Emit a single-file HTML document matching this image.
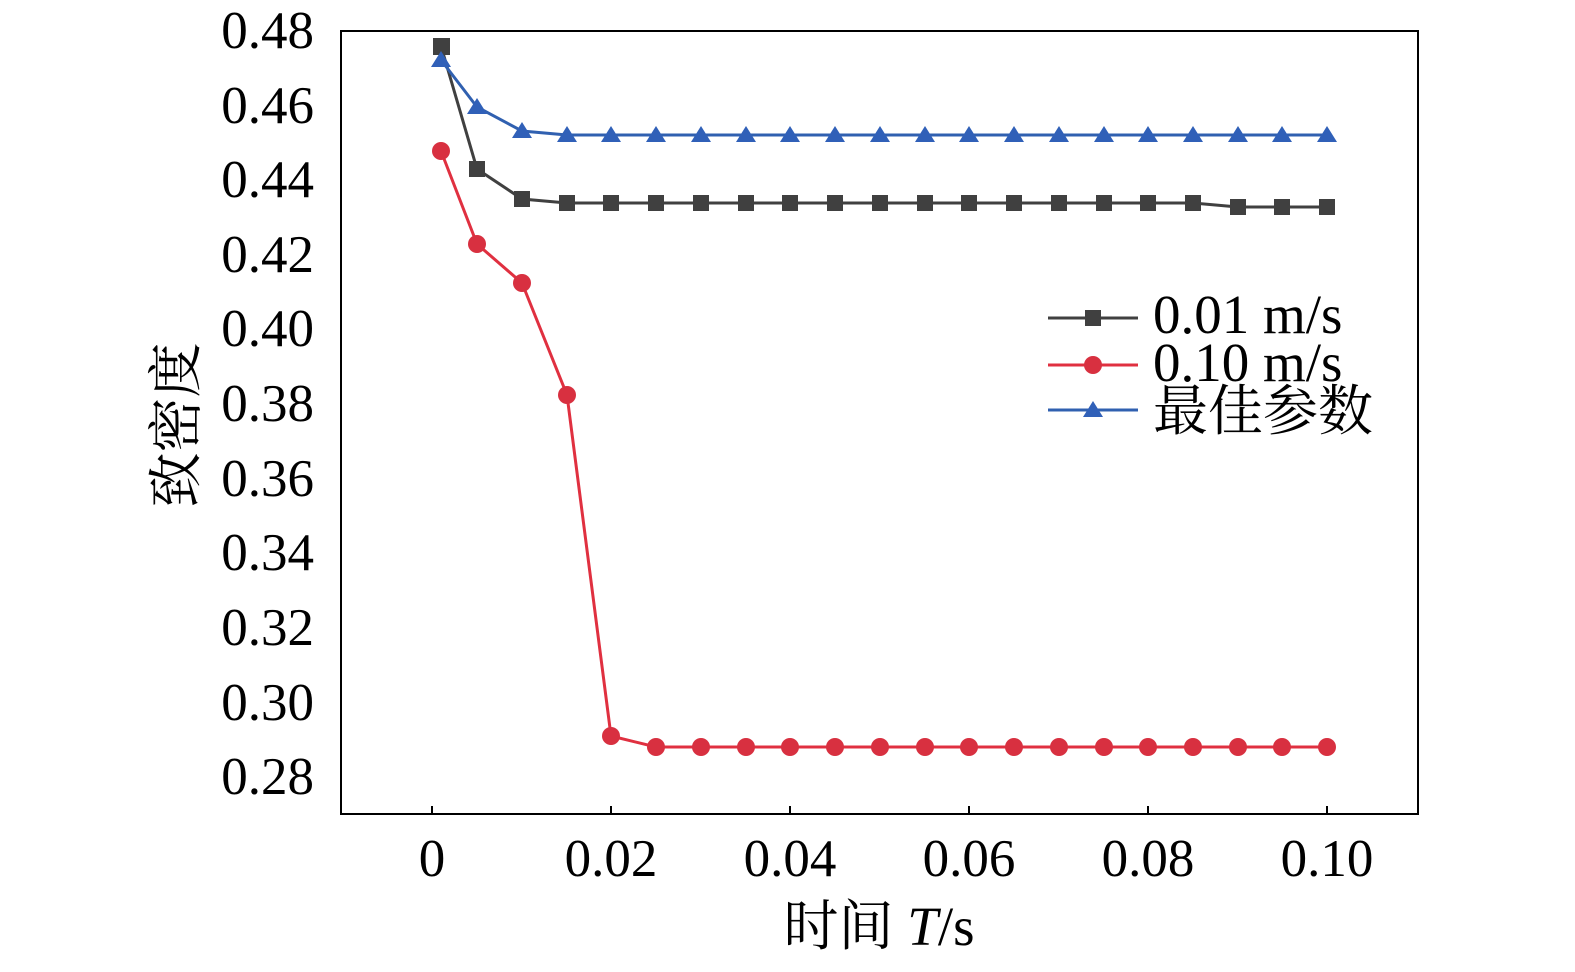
<!DOCTYPE html>
<html><head><meta charset="utf-8"><style>
html,body{margin:0;padding:0;background:#fff;}
</style></head><body>
<svg width="1575" height="967" xmlns="http://www.w3.org/2000/svg" font-family="'Liberation Serif','Noto Serif CJK SC',serif">
<rect x="341" y="31" width="1077" height="783" fill="none" stroke="#000" stroke-width="2"/>
<g font-size="53" text-anchor="end" fill="#000">
<text x="314" y="48">0.48</text><text x="314" y="123">0.46</text><text x="314" y="197">0.44</text>
<text x="314" y="272">0.42</text><text x="314" y="346">0.40</text><text x="314" y="421">0.38</text>
<text x="314" y="496">0.36</text><text x="314" y="570">0.34</text><text x="314" y="645">0.32</text>
<text x="314" y="720">0.30</text><text x="314" y="794">0.28</text>
</g>
<g stroke="#000" stroke-width="2">
<line x1="432" y1="814" x2="432" y2="806"/><line x1="611" y1="814" x2="611" y2="806"/>
<line x1="790" y1="814" x2="790" y2="806"/><line x1="969" y1="814" x2="969" y2="806"/>
<line x1="1148" y1="814" x2="1148" y2="806"/><line x1="1327" y1="814" x2="1327" y2="806"/>
</g>
<g font-size="53" text-anchor="middle">
<text x="432" y="876">0</text><text x="611" y="876">0.02</text><text x="790" y="876">0.04</text>
<text x="969" y="876">0.06</text><text x="1148" y="876">0.08</text><text x="1327" y="876">0.10</text>
</g>
<text x="879" y="945" font-size="55" text-anchor="middle">时间 <tspan font-style="italic">T</tspan>/s</text>
<text transform="translate(195,425) rotate(-90)" font-size="55" text-anchor="middle">致密度</text>
<polyline fill="none" stroke="#404040" stroke-width="3" points="441,46 477,169 522,199 567,203 611,203 656,203 701,203 746,203 790,203 835,203 880,203 925,203 969,203 1014,203 1059,203 1104,203 1148,203 1193,203 1238,207 1282,207 1327,207"/>
<g fill="#404040">
<rect x="433" y="38" width="17" height="17"/><rect x="469" y="161" width="16" height="16"/><rect x="514" y="191" width="16" height="16"/>
<rect x="559" y="195" width="16" height="16"/><rect x="603" y="195" width="16" height="16"/><rect x="648" y="195" width="16" height="16"/>
<rect x="693" y="195" width="16" height="16"/><rect x="738" y="195" width="16" height="16"/><rect x="782" y="195" width="16" height="16"/>
<rect x="827" y="195" width="16" height="16"/><rect x="872" y="195" width="16" height="16"/><rect x="917" y="195" width="16" height="16"/>
<rect x="961" y="195" width="16" height="16"/><rect x="1006" y="195" width="16" height="16"/><rect x="1051" y="195" width="16" height="16"/>
<rect x="1096" y="195" width="16" height="16"/><rect x="1140" y="195" width="16" height="16"/><rect x="1185" y="195" width="16" height="16"/>
<rect x="1230" y="199" width="16" height="16"/><rect x="1274" y="199" width="16" height="16"/><rect x="1319" y="199" width="16" height="16"/>
</g>
<polyline fill="none" stroke="#e03040" stroke-width="3" points="441,151 477,244 522,283 567,395 611,736 656,747 701,747 746,747 790,747 835,747 880,747 925,747 969,747 1014,747 1059,747 1104,747 1148,747 1193,747 1238,747 1282,747 1327,747"/>
<g fill="#d83040">
<circle cx="441" cy="151" r="9"/><circle cx="477" cy="244" r="9"/><circle cx="522" cy="283" r="9"/><circle cx="567" cy="395" r="9"/>
<circle cx="611" cy="736" r="9"/><circle cx="656" cy="747" r="9"/><circle cx="701" cy="747" r="9"/><circle cx="746" cy="747" r="9"/>
<circle cx="790" cy="747" r="9"/><circle cx="835" cy="747" r="9"/><circle cx="880" cy="747" r="9"/><circle cx="925" cy="747" r="9"/>
<circle cx="969" cy="747" r="9"/><circle cx="1014" cy="747" r="9"/><circle cx="1059" cy="747" r="9"/><circle cx="1104" cy="747" r="9"/>
<circle cx="1148" cy="747" r="9"/><circle cx="1193" cy="747" r="9"/><circle cx="1238" cy="747" r="9"/><circle cx="1282" cy="747" r="9"/><circle cx="1327" cy="747" r="9"/>
</g>
<polyline fill="none" stroke="#3060b0" stroke-width="3" points="441,60 477,107 522,131 567,135 611,135 656,135 701,135 746,135 790,135 835,135 880,135 925,135 969,135 1014,135 1059,135 1104,135 1148,135 1193,135 1238,135 1282,135 1327,135"/>
<g fill="#3060b8">
<path d="M441,51 l10,16 h-20z"/><path d="M477,98 l10,16 h-20z"/><path d="M522,122 l10,16 h-20z"/>
<path d="M567,126 l10,16 h-20z"/><path d="M611,126 l10,16 h-20z"/><path d="M656,126 l10,16 h-20z"/>
<path d="M701,126 l10,16 h-20z"/><path d="M746,126 l10,16 h-20z"/><path d="M790,126 l10,16 h-20z"/>
<path d="M835,126 l10,16 h-20z"/><path d="M880,126 l10,16 h-20z"/><path d="M925,126 l10,16 h-20z"/>
<path d="M969,126 l10,16 h-20z"/><path d="M1014,126 l10,16 h-20z"/><path d="M1059,126 l10,16 h-20z"/>
<path d="M1104,126 l10,16 h-20z"/><path d="M1148,126 l10,16 h-20z"/><path d="M1193,126 l10,16 h-20z"/>
<path d="M1238,126 l10,16 h-20z"/><path d="M1282,126 l10,16 h-20z"/><path d="M1327,126 l10,16 h-20z"/>
</g>
<line x1="1048" y1="318" x2="1138" y2="318" stroke="#404040" stroke-width="3"/>
<rect x="1085" y="310" width="16" height="16" fill="#404040"/>
<line x1="1048" y1="365" x2="1138" y2="365" stroke="#e03040" stroke-width="3"/>
<circle cx="1093" cy="365" r="9" fill="#d83040"/>
<line x1="1048" y1="410" x2="1138" y2="410" stroke="#3060b0" stroke-width="3"/>
<path d="M1093,401 l10,16 h-20z" fill="#3060b8"/>
<g font-size="55">
<text x="1153" y="333">0.01 m/s</text>
<text x="1153" y="381">0.10 m/s</text>
<text x="1153" y="430">最佳参数</text>
</g>
</svg>
</body></html>
